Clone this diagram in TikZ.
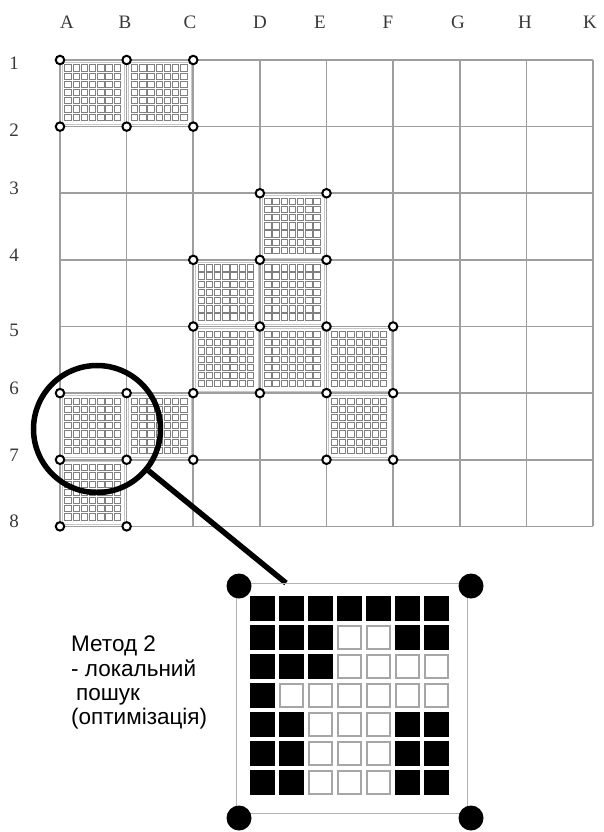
\documentclass[tikz,border=0pt]{standalone}
\usepackage{fontspec}
\setmainfont{Liberation Serif}
\newfontfamily\notefont{Liberation Sans}
\usetikzlibrary{positioning}

\begin{document}
\begin{tikzpicture}[
    x=1pt,y=-1pt,
    gridline/.style={draw=black!38,line width=1.7pt},
    axislabel/.style={font=\fontsize{19}{19}\selectfont,text=black!78,inner sep=0pt},
    cornerpt/.style={circle,draw=black,fill=white,line width=2pt,minimum size=8.5pt,inner sep=0pt},
    bigpt/.style={circle,fill=black,minimum size=25pt,inner sep=0pt},
    cellbox/.style={draw=black!50,line width=0.8pt},
    bitbox/.style={draw=black!35,line width=1.2pt,fill=white},
    bitset/.style={draw=black,line width=1.2pt,fill=black},
    lens/.style={circle,draw=black,line width=5.5pt,minimum size=127pt,inner sep=0pt},
    minigrid/.pic={
        \draw[draw=black!22,line width=0.7pt] (2,2) rectangle (64.6,64.6);
        \foreach \i in {0,...,6}
            \foreach \j in {0,...,6}
                \draw[cellbox] (4.8+8.2*\i,4.8+8.2*\j) rectangle ++(6.3,6.3);
    }
]
\useasboundingbox (0,0) rectangle (604,832);

% main grid
\foreach \i in {0,...,8}
    \draw[gridline] (60+66.625*\i,60) -- (60+66.625*\i,526.4);
\foreach \j in {0,...,7}
    \draw[gridline] (60,60+66.625*\j) -- (593,60+66.625*\j);

% column and row labels
\foreach \c/\x in {A/67,B/125,C/190,D/260,E/320,F/388,G/458,H/525,K/590}
    \node[axislabel] (col\c) at (\x,22) {\c};
\foreach \r/\y in {1/63,2/130,3/188,4/255,5/330,6/388,7/455,8/521}
    \node[axislabel] (row\r) at (14,\y) {\r};

% filled cells
\foreach \i/\j in {0/0,1/0,3/2,2/3,3/3,2/4,3/4,4/4,4/5,0/5,1/5,0/6}
    \pic at (60+66.625*\i,60+66.625*\j) {minigrid};

% corner points
\foreach \i/\j in {0/0,1/0,2/0,0/1,1/1,2/1,3/2,4/2,2/3,3/3,4/3,
                   2/4,3/4,4/4,5/4,0/5,1/5,2/5,3/5,4/5,5/5,
                   0/6,1/6,2/6,4/6,5/6,0/7,1/7}
    \node[cornerpt] (p\i-\j) at (60+66.625*\i,60+66.625*\j) {};

% magnifier
\node[lens] (glass) at (97,429) {};
\coordinate (handle) at (286,583);
\draw[line width=5.5pt] (glass.-39) -- (handle);

% enlarged cell
\draw[draw=black!30,line width=1pt] (236,583) rectangle (467,813);
\foreach \row [count=\j from 0] in {{1,1,1,1,1,1,1},{1,1,1,0,0,1,1},{1,1,1,0,0,0,0},
        {1,0,0,0,0,0,0},{1,1,0,0,0,1,1},{1,1,0,0,0,1,1},{1,1,0,0,0,1,1}}
    \foreach \v [count=\i from 0] in \row {
        \ifnum\v=1
            \draw[bitset] (251+29*\i,597+29*\j) rectangle ++(23,23);
        \else
            \draw[bitbox] (251+29*\i,597+29*\j) rectangle ++(23,23);
        \fi
    }
\node[bigpt] (z1) at (239,586) {};
\node[bigpt] (z2) at (471,586) {};
\node[bigpt] (z3) at (239,818) {};
\node[bigpt] (z4) at (471,818) {};

% caption
\node[anchor=north west,align=left,inner sep=0pt,
      font=\notefont\fontsize{22.5}{24.3}\selectfont] (note) at (71,636)
    {Метод 2\\- локальний\\\hspace*{5pt}пошук\\(оптимізація)};
\end{tikzpicture}
\end{document}
